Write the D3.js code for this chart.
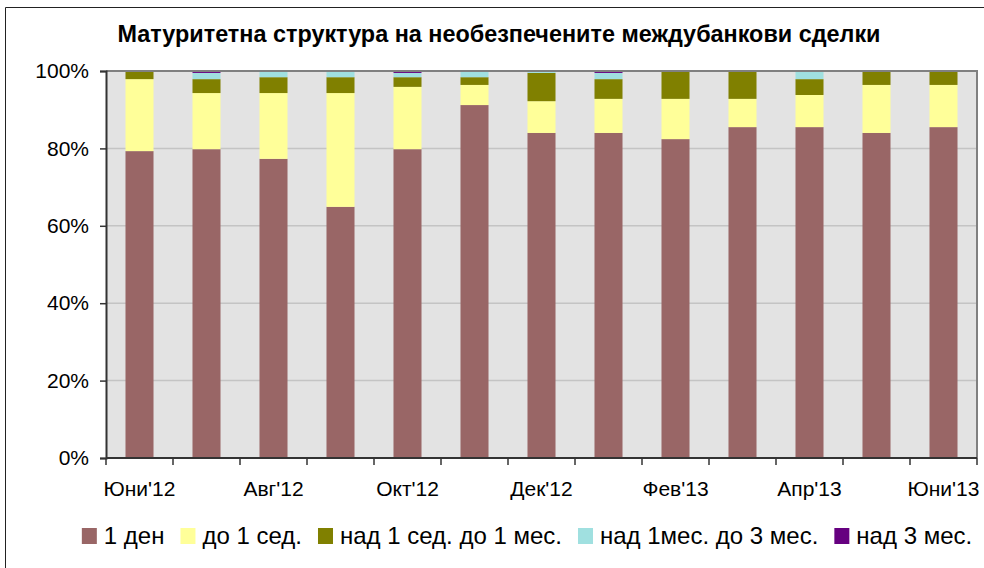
<!DOCTYPE html>
<html>
<head>
<meta charset="utf-8">
<script src="https://cdn.jsdelivr.net/npm/d3@7"></script>
<style>
  html, body { margin: 0; padding: 0; background: #fff; }
  svg { display: block; font-family: "Liberation Sans", Arial, sans-serif; }
</style>
</head>
<body>
<div id="chart"></div>
<script>
// Months (category axis)
const months = ["Юни'12", "Юли'12", "Авг'12", "Сеп'12", "Окт'12", "Ное'12", "Дек'12",
                "Яну'13", "Фев'13", "Мар'13", "Апр'13", "Май'13", "Юни'13"];

// Series names (legend)
const seriesNames = ["1 ден", "до 1 сед.", "над 1 сед. до 1 мес.", "над 1мес. до 3 мес.", "над 3 мес."];

// Share of each maturity bucket, %
const oneDay    = [79.3, 79.8, 77.3, 64.9, 79.8, 91.2, 84.0, 84.0, 82.4, 85.5, 85.5, 84.0, 85.5];
const upToWeek  = [18.6, 14.5, 17.0, 29.4, 16.1,  5.2,  8.2,  8.8, 10.4,  7.3,  8.3, 12.4, 10.9];
const weekMonth = [ 2.1,  3.6,  4.1,  4.1,  2.5,  2.0,  7.3,  5.1,  7.2,  7.2,  4.1,  3.6,  3.6];
const month3m   = [ 0.0,  1.6,  1.6,  1.6,  1.1,  1.6,  0.5,  1.6,  0.0,  0.0,  2.1,  0.0,  0.0];
const over3m    = [ 0.0,  0.5,  0.0,  0.0,  0.5,  0.0,  0.0,  0.5,  0.0,  0.0,  0.0,  0.0,  0.0];

const yTicks = [0, 20, 40, 60, 80, 100];

const colors = ["#996666", "#ffff99", "#808000", "#a0e0e0", "#660080"];

const W = 984, H = 568;
const plot = { left: 106, right: 977, top: 71, bottom: 458 };

const svg = d3.select("#chart").append("svg")
    .attr("width", W)
    .attr("height", H);

// outer chart frame (right and bottom edges are cut off)
svg.append("path")
    .attr("d", `M5.5,${H} V7.5 H${W}`)
    .attr("fill", "none")
    .attr("stroke", "#222")
    .attr("stroke-width", 1);

// Title
svg.append("text")
    .attr("x", 499)
    .attr("y", 42)
    .attr("text-anchor", "middle")
    .attr("font-size", 23.4)
    .attr("font-weight", "bold")
    .attr("fill", "#000")
    .text("Матуритетна структура на необезпечените междубанкови сделки");

// Scales
const x = d3.scaleBand()
    .domain(months)
    .range([plot.left, plot.right])
    .paddingInner(0.582)
    .paddingOuter(0.291);

const y = d3.scaleLinear()
    .domain([0, 100])
    .range([plot.bottom, plot.top]);

// Plot background
svg.append("rect")
    .attr("x", plot.left)
    .attr("y", plot.top)
    .attr("width", plot.right - plot.left)
    .attr("height", plot.bottom - plot.top)
    .attr("fill", "#e3e3e3");

// Gridlines
svg.append("g")
    .selectAll("line")
    .data(yTicks.filter(t => t > 0 && t < 100))
    .enter()
    .append("line")
    .attr("x1", plot.left)
    .attr("x2", plot.right)
    .attr("y1", d => y(d))
    .attr("y2", d => y(d))
    .attr("stroke", "#c4c4c4")
    .attr("stroke-width", 1.5);

// Stacked bars
const table = months.map((m, i) => ({
    month: m,
    s0: oneDay[i], s1: upToWeek[i], s2: weekMonth[i], s3: month3m[i], s4: over3m[i]
}));
const stack = d3.stack().keys(["s0", "s1", "s2", "s3", "s4"]);
const layers = stack(table);

svg.append("g")
    .selectAll("g")
    .data(layers)
    .enter()
    .append("g")
    .attr("fill", (d, i) => colors[i])
    .selectAll("rect")
    .data(d => d)
    .enter()
    .append("rect")
    .attr("x", d => x(d.data.month))
    .attr("width", x.bandwidth())
    .attr("y", d => y(d[1]))
    .attr("height", d => y(d[0]) - y(d[1]));

// Plot border top + right
svg.append("path")
    .attr("d", `M${plot.left},${plot.top} H${plot.right} V${plot.bottom}`)
    .attr("fill", "none")
    .attr("stroke", "#808080")
    .attr("stroke-width", 2);

// Y axis
const yAxis = svg.append("g")
    .attr("transform", `translate(${plot.left},0)`)
    .call(d3.axisLeft(y).tickValues(yTicks).tickFormat(d => d + "%").tickSize(6).tickPadding(11));
yAxis.select(".domain").attr("stroke", "#333").attr("stroke-width", 2);
yAxis.selectAll(".tick line").attr("stroke", "#333").attr("stroke-width", 1.5);
yAxis.selectAll("text")
    .attr("font-size", 21)
    .attr("font-family", "Liberation Sans, Arial, sans-serif")
    .attr("fill", "#000");

// X axis: line + ticks at category boundaries
const step = x.step();
const boundaries = d3.range(months.length + 1).map(i => plot.left + i * step);
svg.append("line")
    .attr("x1", plot.left)
    .attr("x2", plot.right)
    .attr("y1", plot.bottom)
    .attr("y2", plot.bottom)
    .attr("stroke", "#333")
    .attr("stroke-width", 2);
svg.append("g")
    .selectAll("line")
    .data(boundaries)
    .enter()
    .append("line")
    .attr("x1", d => d)
    .attr("x2", d => d)
    .attr("y1", plot.bottom)
    .attr("y2", plot.bottom + 7)
    .attr("stroke", "#333")
    .attr("stroke-width", 1.5);

const xAxis = svg.append("g")
    .attr("transform", `translate(0,${plot.bottom})`)
    .call(d3.axisBottom(x)
        .tickValues(months.filter((m, i) => i % 2 === 0))
        .tickSize(0)
        .tickPadding(23));
xAxis.select(".domain").remove();
xAxis.selectAll("text")
    .attr("font-size", 21)
    .attr("font-family", "Liberation Sans, Arial, sans-serif")
    .attr("fill", "#000");

// Legend
const legend = svg.append("g");
const items = legend.selectAll("g")
    .data(seriesNames)
    .enter()
    .append("g");
items.append("rect")
    .attr("y", 528)
    .attr("width", 15)
    .attr("height", 16)
    .attr("fill", (d, i) => colors[i]);
items.append("text")
    .attr("x", 22)
    .attr("y", 544)
    .attr("font-size", 24)
    .attr("fill", "#000")
    .text(d => d);

let cursor = 0;
items.each(function () {
    const g = d3.select(this);
    g.attr("transform", `translate(${cursor},0)`);
    const w = g.select("text").node().getComputedTextLength();
    cursor += 22 + w + 16;
});
const legendWidth = cursor - 16;
legend.attr("transform", `translate(${527 - legendWidth / 2},0)`);
</script>
</body>
</html>
